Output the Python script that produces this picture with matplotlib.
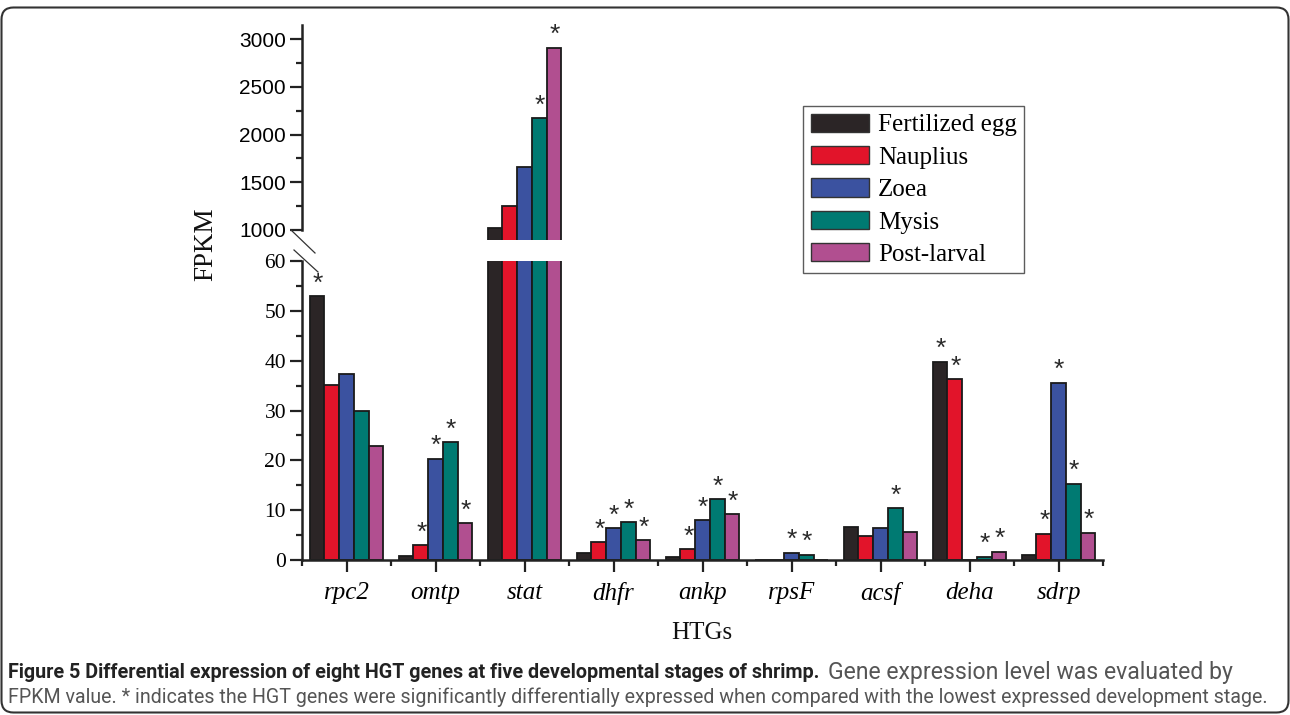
import matplotlib
matplotlib.use("Agg")
import matplotlib.pyplot as plt
import numpy as np
from matplotlib import font_manager
from matplotlib.patches import FancyBboxPatch, Patch
from matplotlib.lines import Line2D
from matplotlib.transforms import IdentityTransform

# ---------------- data ----------------
genes = ['rpc2', 'omtp', 'stat', 'dhfr', 'ankp', 'rpsF', 'acsf', 'deha', 'sdrp']
stages = ['Fertilized egg', 'Nauplius', 'Zoea', 'Mysis', 'Post-larval']
fertilized_egg = [53.0, 0.8, 1018, 1.4, 0.6, 0.0, 6.7, 39.8, 1.1]
nauplius = [35.1, 3.0, 1254, 3.6, 2.2, 0.0, 4.8, 36.3, 5.3]
zoea = [37.3, 20.3, 1663, 6.4, 8.0, 1.5, 6.5, 0.0, 35.6]
mysis = [29.8, 23.7, 2171, 7.6, 12.2, 1.1, 10.4, 0.7, 15.3]
post_larval = [22.9, 7.4, 2909, 4.0, 9.2, 0.0, 5.6, 1.7, 5.5]
# significance markers (*)
sig_fertilized_egg = [1, 0, 0, 0, 0, 0, 0, 1, 0]
sig_nauplius = [0, 1, 0, 1, 1, 0, 0, 1, 1]
sig_zoea = [0, 1, 0, 1, 1, 1, 0, 0, 1]
sig_mysis = [0, 1, 1, 1, 1, 1, 1, 1, 1]
sig_post_larval = [0, 1, 1, 1, 1, 0, 0, 1, 1]

series = [fertilized_egg, nauplius, zoea, mysis, post_larval]
sigs = [sig_fertilized_egg, sig_nauplius, sig_zoea, sig_mysis, sig_post_larval]
colors = ['#2b2526', '#e2142a', '#3b52a0', '#007a72', '#b14f90']

W, H = 1290, 715
fig = plt.figure(figsize=(W / 100, H / 100), dpi=100)
fig.patch.set_facecolor('white')

def fx(px):
    return px / W

def fy(py):
    return 1 - py / H

SERIF = ['Liberation Serif', 'DejaVu Serif']
SANS = ['Liberation Sans', 'DejaVu Sans']

left, right = 302, 1103
ax_lo = fig.add_axes([fx(left), fy(560), fx(right - left), (560 - 261) / H])
ax_hi = fig.add_axes([fx(left), fy(240), fx(right - left), (240 - 25) / H])

x = np.arange(len(genes))
bw = 0.165
for j, (vals, col) in enumerate(zip(series, colors)):
    xs = x + (j - 2) * bw
    for ax in (ax_lo, ax_hi):
        ax.bar(xs, vals, width=bw, color=col, edgecolor='#1a1a1a', linewidth=1.3,
               zorder=2)
    for xi, v, s in zip(xs, vals, sigs[j]):
        if s:
            ax = ax_hi if v > 60 else ax_lo
            ax.annotate('*', (xi, v), xytext=(0.5, 9.0), textcoords='offset points',
                        ha='center', va='center', fontsize=19, family=SANS,
                        color='#2a2a2a', zorder=3)

spine_w = 1.8
# lower axis
ax_lo.set_xlim(-0.5, len(genes) - 0.5)
ax_lo.set_ylim(0, 60)
ax_lo.spines['top'].set_visible(False)
ax_lo.spines['right'].set_visible(False)
for s in ('left', 'bottom'):
    ax_lo.spines[s].set_linewidth(spine_w)
    ax_lo.spines[s].set_color('#222222')
ax_lo.set_yticks(np.arange(0, 61, 10))
ax_lo.set_yticks(np.arange(5, 60, 10), minor=True)
ax_lo.set_xticks(x)
ax_lo.set_xticks(np.arange(-0.5, len(genes), 1.0), minor=True)
ax_lo.set_xticklabels(genes, family=SERIF, style='italic', fontsize=18)
for lab in ax_lo.get_yticklabels():
    lab.set_family(SERIF)
    lab.set_fontsize(15.5)
ax_lo.tick_params(axis='both', which='major', direction='out', length=8.5, width=1.6,
                  color='#222222')
ax_lo.tick_params(axis='both', which='minor', direction='out', length=4.5, width=1.6,
                  color='#222222')
ax_lo.tick_params(axis='y', which='major', pad=3)
ax_lo.tick_params(axis='x', which='major', pad=7)
ax_lo.patch.set_alpha(0)

# upper axis
ax_hi.set_xlim(-0.5, len(genes) - 0.5)
ax_hi.set_ylim(895, 3147)
for s in ('top', 'right', 'bottom'):
    ax_hi.spines[s].set_visible(False)
ax_hi.spines['left'].set_linewidth(spine_w)
ax_hi.spines['left'].set_color('#222222')
ax_hi.spines['left'].set_bounds(1000, 3147)
ax_hi.set_yticks(np.arange(1000, 3001, 500))
ax_hi.set_yticks(np.arange(1250, 3000, 500), minor=True)
ax_hi.set_xticks([])
for lab in ax_hi.get_yticklabels():
    lab.set_family(SANS)
    lab.set_fontsize(15)
ax_hi.tick_params(axis='y', which='major', direction='out', length=8.5, width=1.6,
                  color='#222222', pad=3)
ax_hi.tick_params(axis='y', which='minor', direction='out', length=4.5, width=1.6,
                  color='#222222')
ax_hi.patch.set_alpha(0)

# axis break marks
for (x0, y0, x1, y1) in [(291, 230, 315, 253), (294, 250, 318, 272)]:
    fig.add_artist(Line2D([fx(x0), fx(x1)], [fy(y0), fy(y1)], transform=fig.transFigure,
                          color='#333333', linewidth=0.9))

# labels
fig.text(fx(206), fy(244), 'FPKM', rotation=90, ha='center', va='center',
         family=SERIF, fontsize=19.5, color='#111111')
fig.text(fx(702), fy(633), 'HTGs', ha='center', va='center', family=SERIF,
         fontsize=18, color='#111111')

# legend
handles = [Patch(facecolor=c, edgecolor='#333333', linewidth=1.0) for c in colors]
leg = fig.legend(handles, stages, loc='upper left',
                 bbox_to_anchor=(fx(803), fy(106)), bbox_transform=fig.transFigure,
                 prop=font_manager.FontProperties(family=SERIF, size=18),
                 frameon=True, fancybox=False, borderaxespad=0, borderpad=0.3,
                 handlelength=2.35, handleheight=0.75, handletextpad=0.35,
                 labelspacing=0.38)
leg.get_frame().set_edgecolor('#333333')
leg.get_frame().set_linewidth(1.0)

# figure border (rounded)
border = FancyBboxPatch((1.5, 2.5), W - 3, H - 10, boxstyle='round,pad=0,rounding_size=12',
                        transform=IdentityTransform(), facecolor='none',
                        edgecolor='#333333', linewidth=1.5)
fig.add_artist(border)

# caption
cap_font = ['Roboto', 'DejaVu Sans']

bold_txt = 'Figure 5 Differential expression of eight HGT genes at five developmental stages of shrimp.'
norm1 = 'Gene expression level was evaluated by'
norm2 = ('FPKM value. * indicates the HGT genes were significantly differentially expressed '
         'when compared with the lowest expressed development stage.')

fig.canvas.draw()
renderer = fig.canvas.get_renderer()


def fitted(px, py, txt, target_w, **kw):
    t = fig.text(fx(px), fy(py), txt, ha='left', va='center', family=cap_font,
                 fontsize=12, **kw)
    w = t.get_window_extent(renderer).width
    t.set_fontsize(12 * target_w / w)
    return t

fitted(8, 697, norm2, 1260, color='#555555')
fitted(8, 672, bold_txt, 812, fontweight='bold', color='#222222')
fitted(828, 672, norm1, 404, color='#555555')

fig.savefig('out.png', dpi=100, facecolor='white')
